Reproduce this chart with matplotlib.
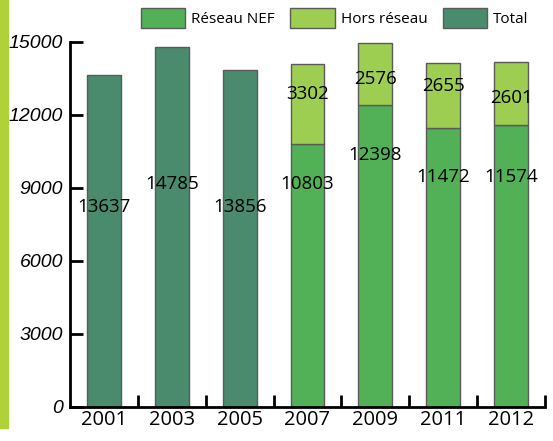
import matplotlib
matplotlib.use("Agg")
import matplotlib.pyplot as plt
from matplotlib.patches import Patch, Rectangle

plt.rcParams['font.family'] = ['Open Sans', 'DejaVu Sans']

# data
years = ['2001', '2003', '2005', '2007', '2009', '2011', '2012']
total = [13637, 14785, 13856, None, None, None, None]
reseau_nef = [None, None, None, 10803, 12398, 11472, 11574]
hors_reseau = [None, None, None, 3302, 2576, 2655, 2601]

# where the value labels sit (data units), as in the original
total_label_y = [8200, 9150, 8200]
nef_label_y = [9150, 10350, 9450, 9450]
hors_label_y = [12850, 13480, 13190, 12700]

c_total = '#4a8a6d'
c_nef = '#52b157'
c_hors = '#9dcd51'
c_edge = '#5a5a5a'

fig = plt.figure(figsize=(5.53, 4.41), dpi=100)
ax = fig.add_axes([0.1266, 0.0771, 0.8589, 0.8277])

# green strip at left edge
fig.patches.append(Rectangle((0, 0.03), 0.015, 0.97, transform=fig.transFigure,
                             color='#afd13a', zorder=0))

x = list(range(len(years)))
w = 0.5
for i, v in enumerate(total):
    if v is not None:
        ax.bar(i, v, width=w, color=c_total, edgecolor=c_edge, linewidth=1)
        ax.text(i, total_label_y[i], str(v), ha='center', va='center', fontsize=13.5)

j = 0
for i, (n, h) in enumerate(zip(reseau_nef, hors_reseau)):
    if n is None:
        continue
    ax.bar(i, n, width=w, color=c_nef, edgecolor=c_edge, linewidth=1)
    ax.bar(i, h, bottom=n, width=w, color=c_hors, edgecolor=c_edge, linewidth=1)
    ax.text(i, nef_label_y[j], str(n), ha='center', va='center', fontsize=13.5)
    ax.text(i, hors_label_y[j], str(h), ha='center', va='center', fontsize=13.5)
    j += 1

ax.set_xlim(-0.5, len(years) - 0.5)
ax.set_ylim(0, 15000)
ax.set_yticks(range(0, 15001, 3000))
ax.set_yticklabels([str(t) for t in range(0, 15001, 3000)], fontstyle='italic',
                   fontsize=14, family='Liberation Sans')
ax.set_xticks(x)
ax.set_xticklabels(years, fontsize=14.5)
ax.set_xticks([i + 0.5 for i in x], minor=True)

ax.spines['top'].set_visible(False)
ax.spines['right'].set_visible(False)
ax.spines['left'].set_linewidth(2)
ax.spines['bottom'].set_linewidth(2)
ax.tick_params(axis='y', direction='in', length=9, width=2, pad=5)
ax.tick_params(axis='x', which='major', length=0, pad=2)
ax.tick_params(axis='x', which='minor', direction='in', length=9, width=2)

handles = [Patch(facecolor=c_nef, edgecolor=c_edge, label='Réseau NEF'),
           Patch(facecolor=c_hors, edgecolor=c_edge, label='Hors réseau'),
           Patch(facecolor=c_total, edgecolor=c_edge, label='Total')]
fig.legend(handles=handles, loc='center left', bbox_to_anchor=(0.255, 0.959),
           ncol=3, frameon=False, fontsize=11, handlelength=2.9, handleheight=1.7,
           handletextpad=0.4, columnspacing=1.0, borderaxespad=0, borderpad=0)

fig.savefig('out.png', dpi=100)
